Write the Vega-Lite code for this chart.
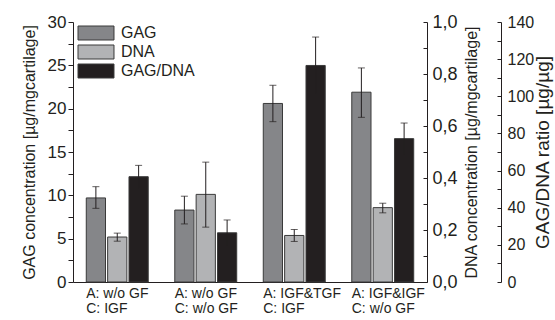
{
  "$schema": "https://vega.github.io/schema/vega-lite/v6.json",
  "width": 354,
  "height": 260,
  "autosize": {"type": "none"},
  "padding": {"left": 73, "top": 22, "right": 128, "bottom": 38},
  "background": "white",
  "config": {
    "view": {"stroke": null},
    "font": "Liberation Sans",
    "axis": {
      "grid": false,
      "domainColor": "#231f20",
      "tickColor": "#231f20",
      "labelColor": "#231f20",
      "titleColor": "#231f20",
      "labelFont": "Liberation Sans",
      "titleFont": "Liberation Sans",
      "titleFontWeight": "normal",
      "labelFontSize": 17,
      "titleFontSize": 16,
      "titleLimit": 400
    },
    "axisLeft": {"tickSize": 5, "labelPadding": 2, "titlePadding": 10},
    "axisRight": {"tickSize": -4, "labelPadding": 9, "titleAngle": 270, "titleBaseline": "top"}
  },
  "datasets": {
    "d": [
      {"group": "A: w/o GF|C: IGF", "series": "GAG", "value": 9.7, "lo": 8.5, "hi": 11.0},
      {"group": "A: w/o GF|C: IGF", "series": "DNA", "value": 0.173, "lo": 0.157, "hi": 0.188},
      {"group": "A: w/o GF|C: IGF", "series": "GAG/DNA", "value": 56.7, "lo": 50.6, "hi": 62.8},
      {"group": "A: w/o GF|C: w/o GF", "series": "GAG", "value": 8.3, "lo": 6.7, "hi": 9.9},
      {"group": "A: w/o GF|C: w/o GF", "series": "DNA", "value": 0.337, "lo": 0.211, "hi": 0.461},
      {"group": "A: w/o GF|C: w/o GF", "series": "GAG/DNA", "value": 26.5, "lo": 19.6, "hi": 33.4},
      {"group": "A: IGF&TGF|C: IGF", "series": "GAG", "value": 20.6, "lo": 18.5, "hi": 22.7},
      {"group": "A: IGF&TGF|C: IGF", "series": "DNA", "value": 0.179, "lo": 0.156, "hi": 0.202},
      {"group": "A: IGF&TGF|C: IGF", "series": "GAG/DNA", "value": 116.6, "lo": 101.3, "hi": 131.9},
      {"group": "A: IGF&IGF|C: w/o GF", "series": "GAG", "value": 21.9, "lo": 19.0, "hi": 24.7},
      {"group": "A: IGF&IGF|C: w/o GF", "series": "DNA", "value": 0.286, "lo": 0.266, "hi": 0.303},
      {"group": "A: IGF&IGF|C: w/o GF", "series": "GAG/DNA", "value": 77.2, "lo": 68.8, "hi": 85.6}
    ]
  },
  "data": {"name": "d"},
  "encoding": {
    "x": {
      "field": "group",
      "type": "nominal",
      "scale": {
        "domain": ["A: w/o GF|C: IGF", "A: w/o GF|C: w/o GF", "A: IGF&TGF|C: IGF", "A: IGF&IGF|C: w/o GF"],
        "paddingInner": 0.3,
        "paddingOuter": 0.15
      },
      "axis": {
        "title": null,
        "ticks": false,
        "labelAngle": 0,
        "labelAlign": "left",
        "labelOffset": -31,
        "labelFontSize": 14,
        "labelLineHeight": 15,
        "labelPadding": 4,
        "labelExpr": "split(datum.label, '|')"
      }
    },
    "xOffset": {
      "field": "series",
      "type": "nominal",
      "scale": {"domain": ["GAG", "DNA", "GAG/DNA"], "paddingInner": 0.1, "paddingOuter": 0}
    }
  },
  "layer": [
    {
      "transform": [{"filter": "datum.series == 'GAG'"}],
      "layer": [
        {
          "mark": {"type": "bar", "stroke": "#3a3a3a", "strokeWidth": 1},
          "encoding": {
            "y": {
              "field": "value",
              "type": "quantitative",
              "scale": {"domain": [0, 30], "nice": false},
              "axis": {
                "orient": "left",
                "title": "GAG concentration [µg/mgcartilage]",
                "values": [0, 2.5, 5, 7.5, 10, 12.5, 15, 17.5, 20, 22.5, 25, 27.5, 30],
                "labelExpr": "datum.value % 5 == 0 ? datum.label : ''"
              }
            },
            "color": {
              "field": "series",
              "type": "nominal",
              "scale": {"domain": ["GAG", "DNA", "GAG/DNA"], "range": ["#858689", "#b2b3b5", "#231f20"]},
              "legend": {
                "orient": "none",
                "legendX": 15,
                "legendY": 3,
                "title": null,
                "symbolType": "M-2.57,-1H2.57V1H-2.57Z",
                "symbolSize": 196,
                "symbolStrokeColor": "#3a3a3a",
                "symbolStrokeWidth": 1,
                "labelFontSize": 16,
                "labelFont": "Liberation Sans",
                "labelColor": "#231f20",
                "labelOffset": 17,
                "rowPadding": 1
              }
            }
          }
        },
        {
          "mark": {"type": "rule", "color": "#231f20", "strokeWidth": 1},
          "encoding": {
            "y": {"field": "lo", "type": "quantitative", "scale": {"domain": [0, 30], "nice": false},
              "axis": {
                "orient": "left",
                "title": "GAG concentration [µg/mgcartilage]",
                "values": [0, 2.5, 5, 7.5, 10, 12.5, 15, 17.5, 20, 22.5, 25, 27.5, 30],
                "labelExpr": "datum.value % 5 == 0 ? datum.label : ''"
              }},
            "y2": {"field": "hi"}
          }
        },
        {
          "mark": {"type": "tick", "color": "#231f20", "size": 7, "thickness": 1, "orient": "horizontal"},
          "encoding": {"y": {"field": "hi", "type": "quantitative", "scale": {"domain": [0, 30], "nice": false},
              "axis": {
                "orient": "left",
                "title": "GAG concentration [µg/mgcartilage]",
                "values": [0, 2.5, 5, 7.5, 10, 12.5, 15, 17.5, 20, 22.5, 25, 27.5, 30],
                "labelExpr": "datum.value % 5 == 0 ? datum.label : ''"
              }}}
        },
        {
          "mark": {"type": "tick", "color": "#231f20", "size": 7, "thickness": 1, "orient": "horizontal"},
          "encoding": {"y": {"field": "lo", "type": "quantitative", "scale": {"domain": [0, 30], "nice": false},
              "axis": {
                "orient": "left",
                "title": "GAG concentration [µg/mgcartilage]",
                "values": [0, 2.5, 5, 7.5, 10, 12.5, 15, 17.5, 20, 22.5, 25, 27.5, 30],
                "labelExpr": "datum.value % 5 == 0 ? datum.label : ''"
              }}}
        }
      ]
    },
    {
      "transform": [{"filter": "datum.series == 'DNA'"}],
      "layer": [
        {
          "mark": {"type": "bar", "stroke": "#3a3a3a", "strokeWidth": 1},
          "encoding": {
            "y": {
              "field": "value",
              "type": "quantitative",
              "scale": {"domain": [0, 1], "nice": false},
              "axis": {
                "orient": "right",
                "title": "DNA concentration [µg/mgcartilage]",
                "values": [0, 0.1, 0.2, 0.3, 0.4, 0.5, 0.6, 0.7, 0.8, 0.9, 1.0],
                "labelExpr": "round(datum.value * 10) % 2 == 0 ? replace(format(datum.value, '.1f'), '.', ',') : ''",
                "labelFontSize": 18,
                "titlePadding": 6
              }
            },
            "color": {"field": "series", "type": "nominal", "scale": {"domain": ["GAG", "DNA", "GAG/DNA"], "range": ["#858689", "#b2b3b5", "#231f20"]}}
          }
        },
        {
          "mark": {"type": "rule", "color": "#231f20", "strokeWidth": 1},
          "encoding": {
            "y": {"field": "lo", "type": "quantitative", "scale": {"domain": [0, 1], "nice": false},
              "axis": {
                "orient": "right",
                "title": "DNA concentration [µg/mgcartilage]",
                "values": [0, 0.1, 0.2, 0.3, 0.4, 0.5, 0.6, 0.7, 0.8, 0.9, 1.0],
                "labelExpr": "round(datum.value * 10) % 2 == 0 ? replace(format(datum.value, '.1f'), '.', ',') : ''",
                "labelFontSize": 18,
                "titlePadding": 6
              }},
            "y2": {"field": "hi"}
          }
        },
        {
          "mark": {"type": "tick", "color": "#231f20", "size": 7, "thickness": 1, "orient": "horizontal"},
          "encoding": {"y": {"field": "hi", "type": "quantitative", "scale": {"domain": [0, 1], "nice": false},
              "axis": {
                "orient": "right",
                "title": "DNA concentration [µg/mgcartilage]",
                "values": [0, 0.1, 0.2, 0.3, 0.4, 0.5, 0.6, 0.7, 0.8, 0.9, 1.0],
                "labelExpr": "round(datum.value * 10) % 2 == 0 ? replace(format(datum.value, '.1f'), '.', ',') : ''",
                "labelFontSize": 18,
                "titlePadding": 6
              }}}
        },
        {
          "mark": {"type": "tick", "color": "#231f20", "size": 7, "thickness": 1, "orient": "horizontal"},
          "encoding": {"y": {"field": "lo", "type": "quantitative", "scale": {"domain": [0, 1], "nice": false},
              "axis": {
                "orient": "right",
                "title": "DNA concentration [µg/mgcartilage]",
                "values": [0, 0.1, 0.2, 0.3, 0.4, 0.5, 0.6, 0.7, 0.8, 0.9, 1.0],
                "labelExpr": "round(datum.value * 10) % 2 == 0 ? replace(format(datum.value, '.1f'), '.', ',') : ''",
                "labelFontSize": 18,
                "titlePadding": 6
              }}}
        }
      ]
    },
    {
      "transform": [{"filter": "datum.series == 'GAG/DNA'"}],
      "layer": [
        {
          "mark": {"type": "bar", "stroke": "#3a3a3a", "strokeWidth": 1},
          "encoding": {
            "y": {
              "field": "value",
              "type": "quantitative",
              "scale": {"domain": [0, 140], "nice": false},
              "axis": {
                "orient": "right",
                "offset": 74,
                "title": "GAG/DNA ratio [µg/µg]",
                "values": [0, 10, 20, 30, 40, 50, 60, 70, 80, 90, 100, 110, 120, 130, 140],
                "labelExpr": "datum.value % 20 == 0 ? datum.label : ''",
                "labelFontSize": 16,
                "labelPadding": 10,
                "titleFontSize": 19,
                "titlePadding": 0
              }
            },
            "color": {"field": "series", "type": "nominal", "scale": {"domain": ["GAG", "DNA", "GAG/DNA"], "range": ["#858689", "#b2b3b5", "#231f20"]}}
          }
        },
        {
          "mark": {"type": "rule", "color": "#231f20", "strokeWidth": 1},
          "encoding": {
            "y": {"field": "lo", "type": "quantitative", "scale": {"domain": [0, 140], "nice": false},
              "axis": {
                "orient": "right",
                "offset": 74,
                "title": "GAG/DNA ratio [µg/µg]",
                "values": [0, 10, 20, 30, 40, 50, 60, 70, 80, 90, 100, 110, 120, 130, 140],
                "labelExpr": "datum.value % 20 == 0 ? datum.label : ''",
                "labelFontSize": 16,
                "labelPadding": 10,
                "titleFontSize": 19,
                "titlePadding": 0
              }},
            "y2": {"field": "hi"}
          }
        },
        {
          "mark": {"type": "tick", "color": "#231f20", "size": 7, "thickness": 1, "orient": "horizontal"},
          "encoding": {"y": {"field": "hi", "type": "quantitative", "scale": {"domain": [0, 140], "nice": false},
              "axis": {
                "orient": "right",
                "offset": 74,
                "title": "GAG/DNA ratio [µg/µg]",
                "values": [0, 10, 20, 30, 40, 50, 60, 70, 80, 90, 100, 110, 120, 130, 140],
                "labelExpr": "datum.value % 20 == 0 ? datum.label : ''",
                "labelFontSize": 16,
                "labelPadding": 10,
                "titleFontSize": 19,
                "titlePadding": 0
              }}}
        }
      ]
    }
  ],
  "resolve": {"scale": {"y": "independent"}, "axis": {"y": "independent"}}
}
